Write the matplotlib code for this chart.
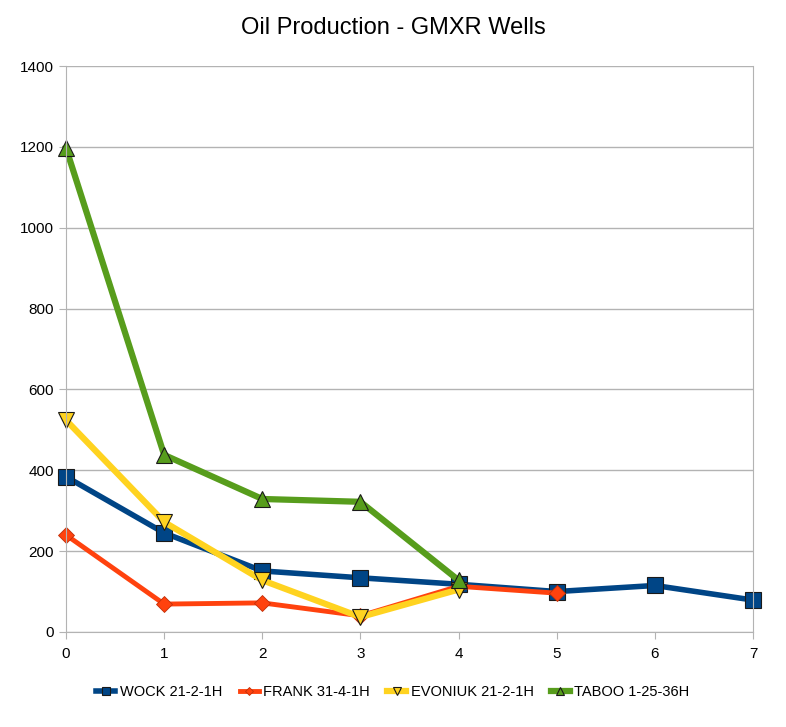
import matplotlib
matplotlib.use("Agg")
import matplotlib.pyplot as plt

plt.rcParams['font.family'] = ['Liberation Sans', 'DejaVu Sans']

# data
wock_x = [0, 1, 2, 3, 4, 5, 6, 7]
wock_y = [384, 245, 151, 134, 118, 100, 115, 79]
frank_x = [0, 1, 2, 3, 4, 5]
frank_y = [240, 69, 72, 40, 113, 96]
evoniuk_x = [0, 1, 2, 3, 4]
evoniuk_y = [524, 272, 128, 37, 105]
taboo_x = [0, 1, 2, 3, 4]
taboo_y = [1197, 438, 329, 322, 128]

fig = plt.figure(figsize=(7.86, 7.27), dpi=100)
ax = fig.add_axes([0.084, 0.1307, 0.874, 0.7785])

ax.plot(wock_x, wock_y, color='#004586', lw=4, marker='s', ms=11,
        mec='#1a1a1a', mew=0.8, label='WOCK 21-2-1H', clip_on=False)
ax.plot(frank_x, frank_y, color='#ff420e', lw=3.5, marker='D', ms=8,
        mec='#c0300a', mew=0.6, label='FRANK 31-4-1H', clip_on=False)
ax.plot(evoniuk_x, evoniuk_y, color='#ffd320', lw=4.5, marker='v', ms=11,
        mec='#1a1a1a', mew=0.8, label='EVONIUK 21-2-1H', clip_on=False)
ax.plot(taboo_x, taboo_y, color='#579d1c', lw=4.5, marker='^', ms=11,
        mec='#1a1a1a', mew=0.8, label='TABOO 1-25-36H', clip_on=False)

ax.set_xlim(0, 7)
ax.set_ylim(0, 1400)
ax.set_xticks(range(0, 8))
ax.set_yticks(range(0, 1401, 200))
ax.grid(axis='y', color='#b3b3b3', lw=1)
ax.set_axisbelow(True)
ax.spines['top'].set_visible(False)
for s in ['left', 'right', 'bottom']:
    ax.spines[s].set_color('#b3b3b3')
ax.tick_params(colors='#b3b3b3', labelcolor='black', labelsize=11, length=5)
ax.tick_params(axis='x', pad=6)

fig.suptitle('Oil Production - GMXR Wells', y=0.977, fontsize=17)

fig.legend(loc='center', bbox_to_anchor=(0.5, 0.048), ncol=4, frameon=False,
           fontsize=10.5, handlelength=1.3, handletextpad=0.3,
           columnspacing=1.2, markerscale=0.5)

fig.savefig('out.png', dpi=100)
